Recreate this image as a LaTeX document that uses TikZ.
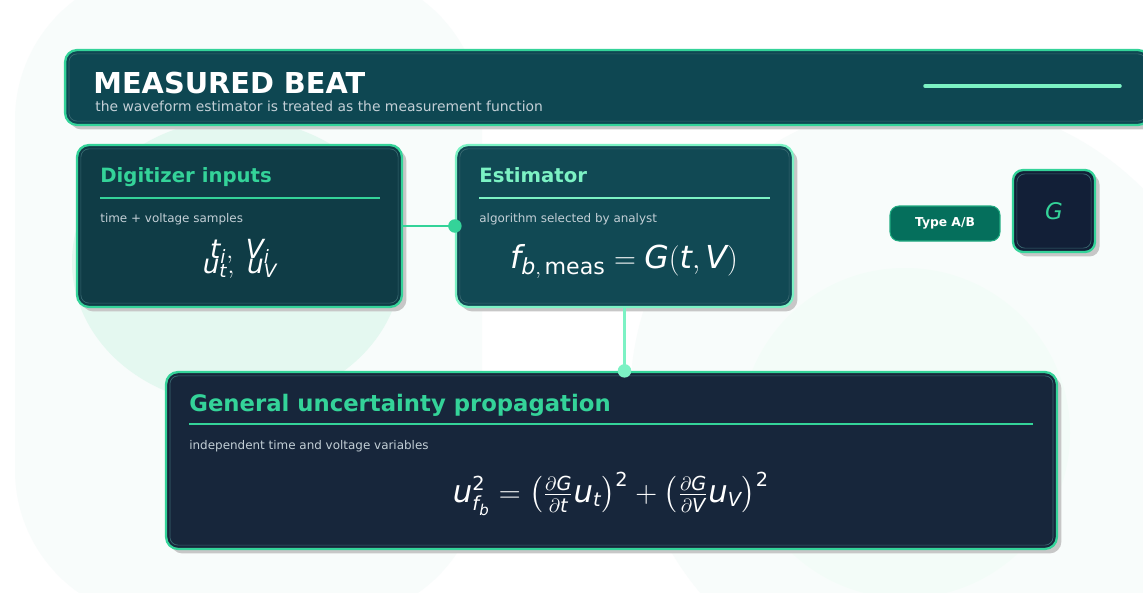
\documentclass[tikz,border=0pt]{standalone}
\usepackage{amsmath}
\usepackage{mathspec}
\setmainfont{DejaVu Sans}
\setmathsfont(Digits,Latin,Greek){DejaVu Sans}
\DeclareMathSizes{17.5}{17.5}{11}{8.5}
\usepackage{tikz}
\usetikzlibrary{
  arrows.meta,
  shapes,
  positioning,
  calc,
  backgrounds,
  shadows
}
\definecolor{mbGreen}{HTML}{34D399}
\definecolor{mbMint}{HTML}{7CF2C4}
\definecolor{mbHead}{HTML}{0E4752}
\definecolor{mbDig}{HTML}{0F3C46}
\definecolor{mbEst}{HTML}{114954}
\definecolor{mbNavy}{HTML}{17263B}
\definecolor{mbGbox}{HTML}{121F37}
\definecolor{mbPill}{HTML}{056F5C}
\definecolor{mbGray}{HTML}{C3CFD6}
\definecolor{mbBgA}{HTML}{F8FCFB}
\definecolor{mbBgB}{HTML}{E4F8F0}
\definecolor{mbBgC}{HTML}{F3FCF8}

\newcommand{\sqpar}[1]{\bigl(#1\bigr){\vphantom{)}}^{2}}

\tikzset{
  card/.style={draw=mbGreen, line width=1.3pt, rounded corners=0.24cm,
    drop shadow={shadow xshift=0.09cm, shadow yshift=-0.09cm, fill=black!22, opacity=1}},
  inner/.style={draw=white!18!mbHead, line width=0.4pt, rounded corners=0.16cm},
  cardtitle/.style={anchor=base west, inner sep=0pt, font=\fontsize{11.2}{13}\bfseries\selectfont},
  cardnote/.style={anchor=base west, inner sep=0pt, text=mbGray, font=\fontsize{6.8}{8}\selectfont},
  formula/.style={anchor=base, inner sep=0pt, text=white},
  link/.style={line width=1.6pt},
  dot/.style={circle, inner sep=0pt, minimum size=0.27cm}
}

\begin{document}
\begin{tikzpicture}[x=0.02cm, y=-0.02cm]
  \useasboundingbox (0,0) rectangle (1143,592);
  \clip (0,0) rectangle (1143,592);
  % background blobs
  \fill[white] (0,0) rectangle (1143,592);
  \fill[mbBgA, rounded corners=3cm] (15,-30) rectangle (482,620);
  \fill[mbBgA] (930,400) circle (300);
  \fill[mbBgB] (237,262) ellipse (165 and 143);
  \fill[mbBgC] (905,433) circle (165);

  % header bar
  \node[card, fill=mbHead, minimum width=21.7cm, minimum height=1.5cm] (head) at (607.5,87.5) {};
  \node[anchor=base west, inner sep=0pt, text=white, font=\fontsize{16.4}{18}\bfseries\selectfont] (headtitle) at (93,93) {MEASURED BEAT};
  \node[anchor=base west, inner sep=0pt, text=mbGray, font=\fontsize{7.9}{9}\selectfont] (headsub) at (95,111)
    {the waveform estimator is treated as the measurement function};
  \draw[mbMint, line width=2pt, line cap=round] (925,86) -- (1120,86);

  % digitizer inputs
  \node[card, fill=mbDig, minimum width=6.5cm, minimum height=3.24cm] (dig) at (239.5,226) {};
  \node[cardtitle, text=mbGreen] (digtitle) at (100,182) {Digitizer inputs};
  \draw[mbGreen, line width=1.1pt] (100,198) -- (380,198);
  \node[cardnote] (dignote) at (100,222) {time + voltage samples};
  \node[formula, font=\fontsize{15}{17}\selectfont] (digA) at (240,258) {$t_i,\ V_i$};
  \node[formula, font=\fontsize{15}{17}\selectfont] (digB) at (240,273) {$u_t,\ u_V$};

  % estimator
  \node[card, draw=mbMint, fill=mbEst, minimum width=6.74cm, minimum height=3.24cm] (est) at (624.5,226) {};
  \node[cardtitle, text=mbMint] (esttitle) at (479,182) {Estimator};
  \draw[mbMint, line width=1.1pt] (479,198) -- (770,198);
  \node[cardnote] (estnote) at (479,222) {algorithm selected by analyst};
  \node[formula, font=\fontsize{18}{20}\selectfont] (estf) at (624,268) {$f_{b,\,\text{meas}} = G(t,V)$};

  % general uncertainty propagation
  \node[card, fill=mbNavy, minimum width=17.82cm, minimum height=3.54cm] (unc) at (611.5,460.5) {};
  \node[cardtitle, text=mbGreen, font=\fontsize{12.95}{15}\bfseries\selectfont] (unctitle) at (189,411)
    {General uncertainty propagation};
  \draw[mbGreen, line width=1.1pt] (189,424) -- (1033,424);
  \node[cardnote] (uncnote) at (189,449) {independent time and voltage variables};
  \node[formula, font=\fontsize{17.5}{20}\selectfont] (uncf) at (611,502)
    {$u_{f_b}^2 = \sqpar{\frac{\partial G}{\partial t}u_t} + \sqpar{\frac{\partial G}{\partial V}u_V}$};

  % type tag and G box
  \node[draw=mbGreen!60!mbPill, line width=0.6pt, fill=mbPill, rounded corners=0.18cm,
    minimum width=2.2cm, minimum height=0.7cm, text=white,
    font=\fontsize{7}{8}\bfseries\selectfont] (tag) at (945,223.5) {Type A/B};
  \node[card, fill=mbGbox, minimum width=1.64cm, minimum height=1.64cm, rounded corners=0.2cm,
    text=mbGreen, font=\fontsize{13}{15}\selectfont] (gbox) at (1054,211) {$G$};

  % inner borders
  \foreach \n in {head,dig,est,unc,gbox}
    \draw[inner] ([xshift=0.1cm,yshift=-0.1cm]\n.north west) rectangle ([xshift=-0.1cm,yshift=0.1cm]\n.south east);

  % connectors
  \draw[link, mbGreen] (dig.east) -- (est.west);
  \node[dot, fill=mbGreen] (dotA) at (est.west) {};
  \coordinate (uncin) at (est.south |- unc.north);
  \draw[link, mbMint] (est.south) -- (uncin);
  \node[dot, fill=mbMint] (dotB) at (uncin) {};
\end{tikzpicture}
\end{document}
